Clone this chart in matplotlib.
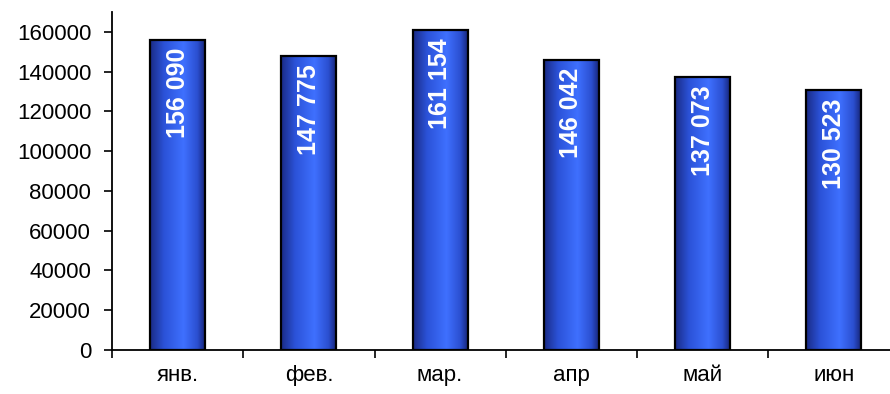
import matplotlib
matplotlib.use("Agg")
import matplotlib.pyplot as plt
import numpy as np
from matplotlib.colors import LinearSegmentedColormap
from matplotlib.patches import Rectangle

categories = ["янв.", "фев.", "мар.", "апр", "май", "июн"]
values = [156090, 147775, 161154, 146042, 137073, 130523]
yticks = [0, 20000, 40000, 60000, 80000, 100000, 120000, 140000, 160000]

plt.rcParams['font.family'] = ['Liberation Sans', 'DejaVu Sans']

fig = plt.figure(figsize=(8.9, 3.94), dpi=100)
ax = fig.add_axes([112/890, 44/394, 787.5/890, 338/394])

n = len(categories)
ax.set_xlim(0, n)
ax.set_ylim(0, 170000)

cmap = LinearSegmentedColormap.from_list(
    "cyl", [(0.0, "#1a2b85"), (0.25, "#2b52d8"), (0.6, "#3f70ff"), (0.85, "#2b4fd0"), (1.0, "#142070")])
grad = np.linspace(0, 1, 256).reshape(1, -1)
bw = 0.42
for i, v in enumerate(values):
    x0 = i + 0.5 - bw / 2
    im = ax.imshow(grad, cmap=cmap, aspect='auto', extent=[x0, x0 + bw, 0, v],
                   interpolation='bicubic', zorder=2)
    rect = Rectangle((x0, 0), bw, v, facecolor='none', edgecolor='black', linewidth=1.6, zorder=3)
    ax.add_patch(rect)
    im.set_clip_path(rect)
    label = f"{v:,}".replace(",", " ")
    ax.annotate(label, (i + 0.5, v), xytext=(0, -6), textcoords='offset points',
                rotation=90, ha='center', va='top', color='white', fontsize=18,
                fontweight='bold', zorder=4)

ax.set_yticks(yticks)
ax.set_yticklabels([str(t) for t in yticks])
ax.set_xticks(np.arange(0, n + 1))
ax.set_xticklabels([])
ax.set_xticks(np.arange(n) + 0.5, minor=True)
ax.set_xticklabels(categories, minor=True)
ax.tick_params(axis='x', which='minor', length=0, pad=11, labelsize=16)
ax.tick_params(axis='x', which='major', length=6, width=1.2, direction='out')
ax.tick_params(axis='y', length=6, width=1.2, direction='out', labelsize=16, pad=9)

for s in ['top', 'right']:
    ax.spines[s].set_visible(False)
for s in ['left', 'bottom']:
    ax.spines[s].set_linewidth(1.3)

fig.savefig("out.png", dpi=100)
